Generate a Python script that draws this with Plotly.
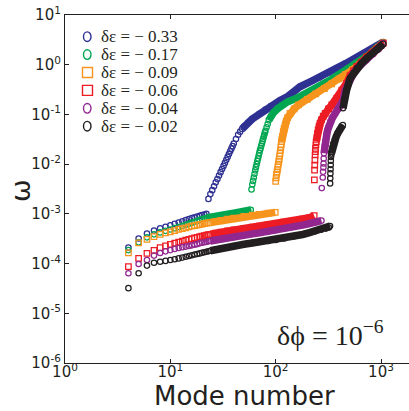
import plotly.graph_objects as go

# ---------------- data ----------------
series_labels = ["δε = − 0.33", "δε = − 0.17", "δε = − 0.09",
                 "δε = − 0.06", "δε = − 0.04", "δε = − 0.02"]

x_tick_vals = [1, 10, 100, 1000]
x_tick_text = ["10<sup>0</sup>", "10<sup>1</sup>", "10<sup>2</sup>", "10<sup>3</sup>"]
y_tick_vals = [1e1, 1e0, 1e-1, 1e-2, 1e-3, 1e-4, 1e-5, 1e-6]
y_tick_text = ["10<sup>1</sup>", "10<sup>0</sup>", "10<sup>-1</sup>", "10<sup>-2</sup>",
               "10<sup>-3</sup>", "10<sup>-4</sup>", "10<sup>-5</sup>", "10<sup>-6</sup>"]

# δε = -0.33 (blue)
blue_low_n = [4, 5, 6, 7, 8, 9, 10, 11, 12, 13, 14, 15, 16, 17, 18, 19, 20, 21, 22]
blue_low_w = [2.1e-4, 3.2e-4, 4.0e-4, 4.6e-4, 5.1e-4, 5.5e-4, 5.9e-4, 6.3e-4, 6.7e-4, 7.1e-4,
              7.5e-4, 7.9e-4, 8.2e-4, 8.5e-4, 8.8e-4, 9.1e-4, 9.4e-4, 9.7e-4, 1.0e-3]
blue_high_n = [23, 24, 25, 26, 27, 28, 29, 30, 31, 32, 33, 34, 35, 36, 37, 38, 39, 40, 42, 44,
               46, 48, 50, 55, 60, 70, 80, 90, 110, 130, 170, 220, 260, 320, 380, 460, 550,
               660, 790, 920, 1050]
blue_high_w = [2.0e-3, 2.5e-3, 3.0e-3, 3.6e-3, 4.3e-3, 5.0e-3, 5.9e-3, 6.9e-3, 8.0e-3, 9.2e-3,
               1.06e-2, 1.22e-2, 1.4e-2, 1.6e-2, 1.82e-2, 2.05e-2, 2.3e-2, 2.6e-2, 3.2e-2, 3.9e-2,
               4.5e-2, 5.1e-2, 5.7e-2, 6.8e-2, 8.1e-2, 0.103, 0.125, 0.147, 0.19, 0.23, 0.36,
               0.47, 0.55, 0.7, 0.86, 1.05, 1.28, 1.55, 1.9, 2.3, 2.85]

# δε = -0.17 (green)
green_low_n = [4, 5, 6, 7, 8, 9, 10, 11, 12, 13, 14, 15, 16, 17, 18, 19, 20, 21, 22, 23, 24,
               27, 30, 35, 40, 45, 50, 55, 58]
green_low_w = [1.87e-4, 2.67e-4, 3.37e-4, 3.87e-4, 4.24e-4, 4.55e-4, 4.85e-4, 5.15e-4, 5.45e-4,
               5.75e-4, 6.05e-4, 6.35e-4, 6.65e-4, 6.95e-4, 7.25e-4, 7.55e-4, 7.85e-4, 8.05e-4,
               8.25e-4, 8.45e-4, 8.6e-4, 8.95e-4, 9.3e-4, 9.8e-4, 1.03e-3, 1.08e-3, 1.12e-3,
               1.16e-3, 1.2e-3]
green_high_n = [59, 60, 61, 62, 63, 64, 65, 66, 67, 68, 69, 70, 71, 72, 73, 74, 75, 76, 77, 78,
                79, 80, 82, 84, 86, 90, 95, 105, 115, 130, 165, 200, 240, 290, 340, 400, 490,
                600, 700, 800, 920, 1050]
green_high_w = [3.1e-3, 3.9e-3, 4.6e-3, 5.4e-3, 6.4e-3, 7.5e-3, 8.7e-3, 1.0e-2, 1.15e-2, 1.3e-2,
                1.48e-2, 1.68e-2, 1.9e-2, 2.1e-2, 2.35e-2, 2.6e-2, 2.9e-2, 3.2e-2, 3.55e-2, 3.9e-2,
                4.3e-2, 4.7e-2, 5.5e-2, 6.4e-2, 7.6e-2, 9.2e-2, 0.108, 0.132, 0.155, 0.18, 0.22,
                0.27, 0.33, 0.41, 0.51, 0.64, 0.85, 1.12, 1.38, 1.7, 2.25, 2.8]

# δε = -0.09 (orange)
orange_low_n = [4, 5, 6, 7, 8, 9, 10, 11, 12, 13, 14, 15, 16, 17, 18, 19, 20, 21, 22, 23, 24,
                27, 30, 35, 40, 50, 60, 70, 85, 99]
orange_low_w = [1.65e-4, 2.6e-4, 3.07e-4, 3.47e-4, 3.87e-4, 4.13e-4, 4.36e-4, 4.6e-4, 4.85e-4,
                5.05e-4, 5.25e-4, 5.5e-4, 5.65e-4, 5.8e-4, 5.95e-4, 6.1e-4, 6.2e-4, 6.35e-4,
                6.5e-4, 6.6e-4, 6.7e-4, 7.0e-4, 7.3e-4, 7.8e-4, 8.2e-4, 8.9e-4, 9.4e-4, 9.8e-4,
                1.03e-3, 1.07e-3]
orange_high_n = [100, 101, 102, 103, 104, 105, 106, 107, 108, 109, 110, 111, 112, 113, 114, 115,
                 116, 118, 120, 123, 126, 130, 137, 150, 165, 200, 240, 290, 340, 400, 460, 540,
                 630, 730, 850, 950, 1050]
orange_high_w = [4.5e-3, 5.3e-3, 6.2e-3, 7.0e-3, 7.8e-3, 8.8e-3, 1.0e-2, 1.12e-2, 1.25e-2, 1.45e-2,
                 1.65e-2, 1.9e-2, 2.2e-2, 2.5e-2, 2.85e-2, 3.2e-2, 3.6e-2, 4.5e-2, 5.2e-2, 6.2e-2,
                 7.3e-2, 8.6e-2, 0.105, 0.13, 0.155, 0.2, 0.26, 0.33, 0.41, 0.52, 0.64, 0.8, 1.03,
                 1.35, 1.8, 2.2, 2.75]

# δε = -0.06 (red)
red_low_n = [4, 5, 6, 7, 8, 9, 10, 11, 12, 13, 14, 15, 16, 17, 18, 19, 20, 21, 22, 23, 24,
             27, 30, 35, 40, 50, 60, 70, 85, 100, 120, 150, 180, 210, 232]
red_low_w = [8.7e-5, 1.27e-4, 1.6e-4, 1.85e-4, 2.1e-4, 2.28e-4, 2.43e-4, 2.57e-4, 2.7e-4, 2.82e-4,
             2.95e-4, 3.07e-4, 3.18e-4, 3.28e-4, 3.38e-4, 3.48e-4, 3.57e-4, 3.65e-4, 3.73e-4,
             3.81e-4, 3.88e-4, 4.1e-4, 4.3e-4, 4.55e-4, 4.75e-4, 5.1e-4, 5.4e-4, 5.65e-4, 6.0e-4,
             6.3e-4, 6.8e-4, 7.3e-4, 7.8e-4, 8.4e-4, 9.2e-4]
red_high_n = [233, 234, 235, 236, 237, 238, 239, 241, 243, 246, 249, 253, 258, 264, 272, 283, 295,
              318, 341, 380, 425, 470, 509, 550, 589, 650, 733, 820, 912, 1000, 1050]
red_high_w = [4.8e-3, 7.6e-3, 9.6e-3, 1.21e-2, 1.53e-2, 1.78e-2, 2.08e-2, 2.45e-2, 2.85e-2, 3.4e-2,
              4.1e-2, 4.9e-2, 5.7e-2, 6.6e-2, 7.8e-2, 9.2e-2, 0.105, 0.13, 0.155, 0.21, 0.31, 0.42,
              0.6, 0.76, 0.93, 1.13, 1.43, 1.73, 2.08, 2.45, 2.72]

# δε = -0.04 (purple)
purple_low_n = [4, 5, 6, 7, 8, 9, 10, 11, 12, 13, 14, 15, 16, 17, 18, 19, 20, 21, 22, 23, 24,
                27, 30, 35, 40, 50, 60, 70, 85, 100, 120, 150, 180, 210, 240, 272]
purple_low_w = [6.4e-5, 9.8e-5, 1.18e-4, 1.45e-4, 1.63e-4, 1.76e-4, 1.87e-4, 1.97e-4, 2.06e-4,
                2.14e-4, 2.2e-4, 2.26e-4, 2.33e-4, 2.4e-4, 2.47e-4, 2.55e-4, 2.63e-4, 2.68e-4,
                2.74e-4, 2.8e-4, 2.85e-4, 3.0e-4, 3.1e-4, 3.27e-4, 3.42e-4, 3.7e-4, 3.95e-4,
                4.15e-4, 4.4e-4, 4.7e-4, 5.05e-4, 5.5e-4, 5.95e-4, 6.4e-4, 6.8e-4, 7.3e-4]
purple_high_n = [274, 280, 282, 284, 285, 286, 288, 290, 293, 297, 302, 307, 313, 320, 330, 345,
                 367, 390, 409, 440, 456, 490, 550, 620, 720, 840, 950, 1050]
purple_high_w = [3.3e-3, 5.4e-3, 7.0e-3, 8.6e-3, 1.03e-2, 1.3e-2, 1.65e-2, 2.0e-2, 2.4e-2, 2.9e-2,
                 3.5e-2, 4.2e-2, 5.0e-2, 5.9e-2, 7.1e-2, 8.5e-2, 0.105, 0.125, 0.143, 0.195, 0.3,
                 0.45, 0.68, 0.92, 1.22, 1.62, 2.05, 2.68]

# δε = -0.02 (black)
black_low_n = [4, 5, 6, 7, 8, 9, 10, 11, 12, 13, 14, 15, 16, 17, 18, 19, 20, 21, 22, 23, 24,
               27, 30, 35, 40, 50, 60, 70, 85, 100, 120, 150, 180, 210, 240, 270, 300, 320, 328]
black_low_w = [3.2e-5, 6.4e-5, 9.1e-5, 1.04e-4, 1.09e-4, 1.13e-4, 1.18e-4, 1.22e-4, 1.27e-4,
               1.32e-4, 1.37e-4, 1.42e-4, 1.47e-4, 1.52e-4, 1.56e-4, 1.6e-4, 1.65e-4, 1.69e-4,
               1.73e-4, 1.77e-4, 1.81e-4, 1.92e-4, 2.0e-4, 2.12e-4, 2.25e-4, 2.45e-4, 2.6e-4,
               2.72e-4, 2.85e-4, 2.98e-4, 3.2e-4, 3.55e-4, 3.85e-4, 4.2e-4, 4.5e-4, 4.8e-4,
               5.05e-4, 5.3e-4, 5.7e-4]
black_mid_n = [329, 330, 331, 332, 333, 334, 335, 337, 339, 341, 347, 353, 364, 375, 389, 403,
               418, 434]
black_mid_w = [4.1e-3, 5.2e-3, 6.5e-3, 7.9e-3, 9.6e-3, 1.17e-2, 1.4e-2, 1.55e-2, 1.65e-2, 1.78e-2,
               2.2e-2, 2.6e-2, 3.1e-2, 3.56e-2, 4.2e-2, 4.85e-2, 5.5e-2, 6.1e-2]
black_high_n = [436, 446, 470, 509, 550, 589, 650, 733, 820, 912, 1000, 1050]
black_high_w = [0.133, 0.2, 0.3, 0.53, 0.68, 0.85, 1.05, 1.35, 1.65, 1.98, 2.35, 2.62]

# ---------------- styling ----------------
W, H = 409, 411
ML, MR, MT, MB = 65, 0, 15, 48
PW, PH = W - ML - MR, H - MT - MB
AX = "#231F20"

series = [
    dict(color="#2E3192", symbol="circle-open",
         branches=[(blue_low_n, blue_low_w, None), (blue_high_n, blue_high_w, 48)]),
    dict(color="#00A651", symbol="circle-open",
         branches=[(green_low_n, green_low_w, 22), (green_high_n, green_high_w, 86)]),
    dict(color="#F7941D", symbol="square-open",
         branches=[(orange_low_n, orange_low_w, 24), (orange_high_n, orange_high_w, 114)]),
    dict(color="#ED1C24", symbol="square-open",
         branches=[(red_low_n, red_low_w, 24), (red_high_n, red_high_w, 243)]),
    dict(color="#92278F", symbol="circle-open",
         branches=[(purple_low_n, purple_low_w, 24), (purple_high_n, purple_high_w, 288)]),
    dict(color="#231F20", symbol="circle-open",
         branches=[(black_low_n, black_low_w, 24), (black_mid_n, black_mid_w, 339),
                   (black_high_n, black_high_w, 436)]),
]

fig = go.Figure()
for s in series:
    c = s["color"]
    sq = s["symbol"].startswith("square")
    for ns, ws, band_from in s["branches"]:
        if band_from is not None:
            bn = [n for n in ns if n >= band_from]
            bw = [w for n, w in zip(ns, ws) if n >= band_from]
            fig.add_trace(go.Scatter(x=bn, y=bw, mode="lines",
                                     line=dict(color=c, width=7.5),
                                     hoverinfo="skip", showlegend=False))
        fig.add_trace(go.Scatter(x=ns, y=ws, mode="markers",
                                 marker=dict(symbol=s["symbol"], size=5.5 if sq else 5.4,
                                             color=c, line=dict(color=c, width=1.25)),
                                 hoverinfo="skip", showlegend=False))


def px_x(px):
    return (px - ML) / PW


def px_y(py):
    return (H - MB - py) / PH


annotations = []
shapes = []
row_y = [36.7, 54.6, 72.5, 90.4, 108.3, 126.2]
for s, lab, ry in zip(series, series_labels, row_y):
    annotations.append(dict(text=lab, x=px_x(99), y=px_y(ry), xref="paper", yref="paper",
                            xanchor="left", yanchor="middle", showarrow=False,
                            font=dict(family="Liberation Serif", size=17, color=AX)))
    if s["symbol"].startswith("square"):
        shapes.append(dict(type="rect", xref="paper", yref="paper",
                           x0=px_x(82.5), x1=px_x(92.5), y0=px_y(ry + 5), y1=px_y(ry - 5),
                           line=dict(color=s["color"], width=1.4)))
    else:
        shapes.append(dict(type="circle", xref="paper", yref="paper",
                           x0=px_x(83.5), x1=px_x(91.0), y0=px_y(ry + 4.8), y1=px_y(ry - 4.8),
                           line=dict(color=s["color"], width=1.4)))

annotations.append(dict(text="δϕ = 10<sup>−6</sup>", x=px_x(330), y=px_y(333),
                        xref="paper", yref="paper", xanchor="center", yanchor="middle",
                        showarrow=False,
                        font=dict(family="Liberation Serif", size=28, color=AX)))
annotations.append(dict(text="Mode number", x=px_x(244.5), y=px_y(396),
                        xref="paper", yref="paper", xanchor="center", yanchor="middle",
                        showarrow=False,
                        font=dict(family="DejaVu Sans", size=26, color=AX)))
annotations.append(dict(text="ω", x=px_x(20), y=px_y(191), textangle=-90,
                        xref="paper", yref="paper", xanchor="center", yanchor="middle",
                        showarrow=False,
                        font=dict(family="DejaVu Sans", size=27, color=AX)))

tickfont = dict(family="DejaVu Sans", size=15, color=AX)
fig.update_layout(
    width=W, height=H,
    margin=dict(l=ML, r=MR, t=MT, b=MB, autoexpand=False),
    paper_bgcolor="white", plot_bgcolor="white",
    showlegend=False,
    annotations=annotations, shapes=shapes,
    xaxis=dict(type="log", range=[0, (W - ML) / (381 - ML) * 3], tickvals=x_tick_vals,
               ticktext=x_tick_text, ticks="inside", ticklen=4, tickwidth=1, tickcolor=AX,
               showline=True, linecolor=AX, linewidth=1.2, mirror="ticks", automargin=False,
               ticklabelstandoff=-5,
               showgrid=False, zeroline=False, tickfont=tickfont),
    yaxis=dict(type="log", range=[-6, 1], tickvals=y_tick_vals, ticktext=y_tick_text,
               ticks="inside", ticklen=4, tickwidth=1, tickcolor=AX, automargin=False,
               showline=True, linecolor=AX, linewidth=1.2, mirror=False,
               showgrid=False, zeroline=False, tickfont=tickfont),
)

fig.write_html("out.html", config={"displayModeBar": False},
               post_script="document.body.style.margin='0';document.body.style.overflow='hidden';")
